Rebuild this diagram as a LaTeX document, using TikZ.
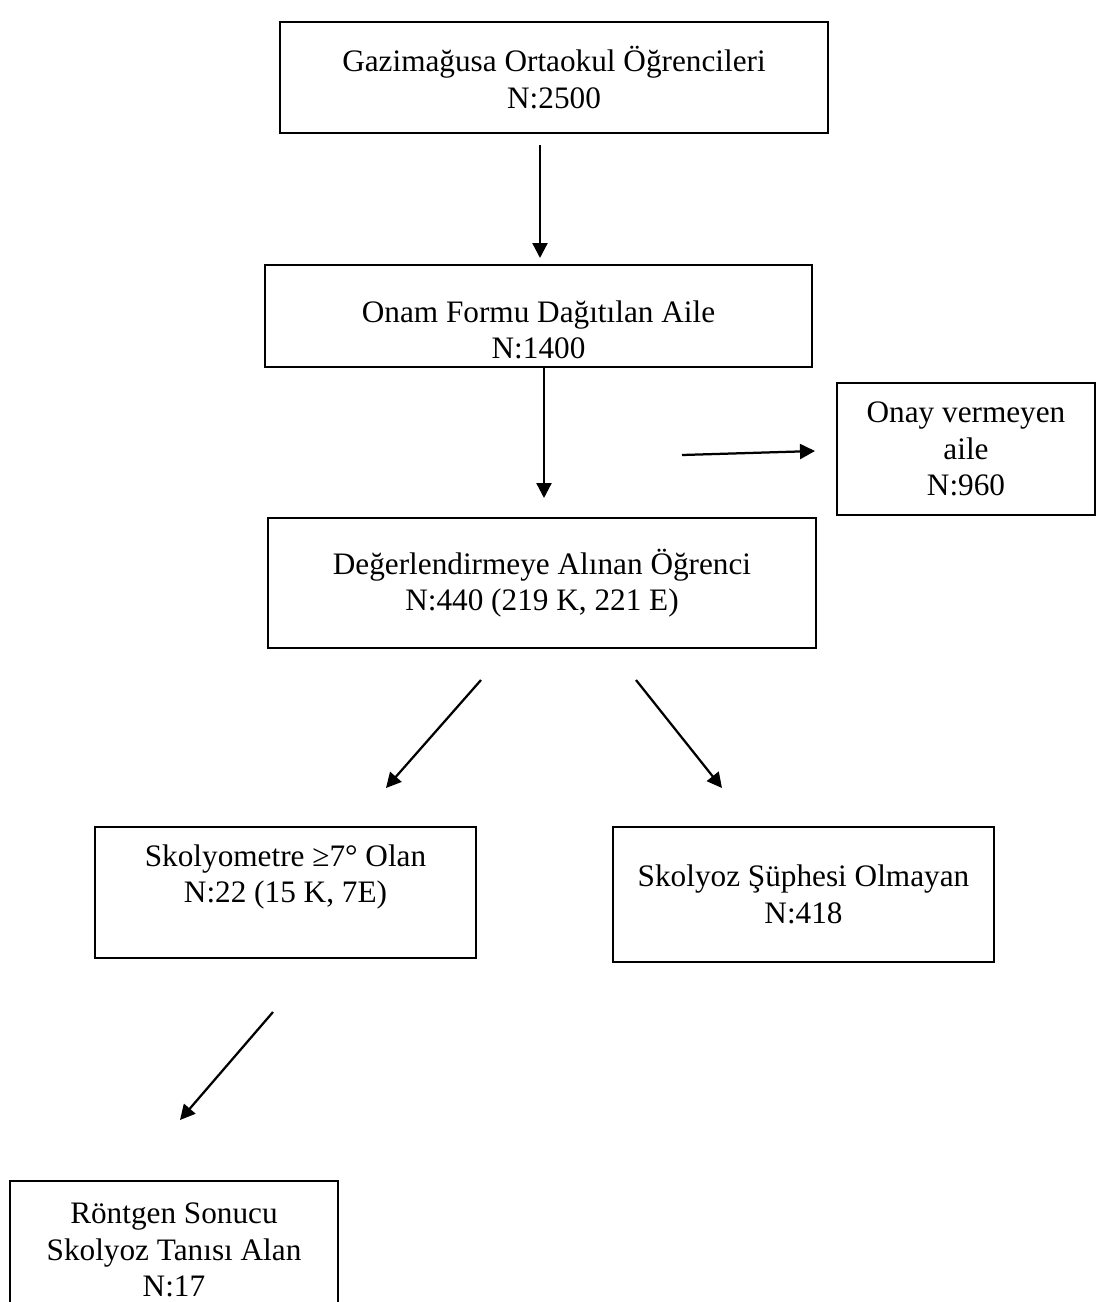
\documentclass[tikz,border=0pt]{standalone}
\usepackage{fontspec}
\setmainfont{Liberation Serif}
\usetikzlibrary{arrows.meta}
\begin{document}
\begin{tikzpicture}[x=0.4pt,y=-0.4pt,
    yazi/.style={align=center, font=\fontsize{12.5}{14.6}\selectfont},
    kutu/.style={draw, line width=0.5pt, inner sep=0pt, yazi},
    ok/.style={-{Triangle[length=6pt,width=6pt]}, line width=0.9pt}]
    \useasboundingbox (0,0) rectangle (1105,1302);
    \clip (0,0) rectangle (1105,1302);
    % Kutular
    \node[kutu, minimum width=219.2pt, minimum height=44.4pt] (ogrenci) at (554,77.5)
        {Gazimağusa Ortaokul Öğrencileri\\N:2500};
    \node[kutu, minimum width=218.8pt, minimum height=40.8pt,
        label={[yazi, yshift=-5.6pt]center:Onam Formu Dağıtılan Aile\\N:1400}]
        (onam) at (538.5,316) {};
    \node[kutu, minimum width=103.2pt, minimum height=52.8pt] (onay) at (966,449)
        {Onay vermeyen\\aile\\N:960};
    \node[kutu, minimum width=219.2pt, minimum height=52pt] (deger) at (542,583)
        {Değerlendirmeye Alınan Öğrenci\\N:440 (219 K, 221 E)};
    \node[kutu, minimum width=152.4pt, minimum height=52.4pt,
        label={[yazi, yshift=6.2pt]center:Skolyometre ≥7° Olan\\N:22 (15 K, 7E)}]
        (skolyo) at (285.5,892.5) {};
    \node[kutu, minimum width=152.4pt, minimum height=54pt] (supe) at (803.5,894.5)
        {Skolyoz Şüphesi Olmayan\\N:418};
    \node[kutu, minimum width=131.2pt, minimum height=55.2pt] (rontgen) at (174,1250)
        {Röntgen Sonucu\\Skolyoz Tanısı Alan\\N:17};
    % Oklarin uclari
    \coordinate (a1) at (540,145);  \coordinate (b1) at (540,258);
    \coordinate (a2) at (544,367);  \coordinate (b2) at (544,498);
    \coordinate (a3) at (682,455);  \coordinate (b3) at (815,451);
    \coordinate (a4) at (481,680);  \coordinate (b4) at (386,788);
    \coordinate (a5) at (636,680);  \coordinate (b5) at (722,788);
    \coordinate (a6) at (273,1012); \coordinate (b6) at (180,1120);
    % Oklar
    \foreach \i in {1,...,6}
        \draw[ok] (a\i) -- (b\i);
\end{tikzpicture}
\end{document}
